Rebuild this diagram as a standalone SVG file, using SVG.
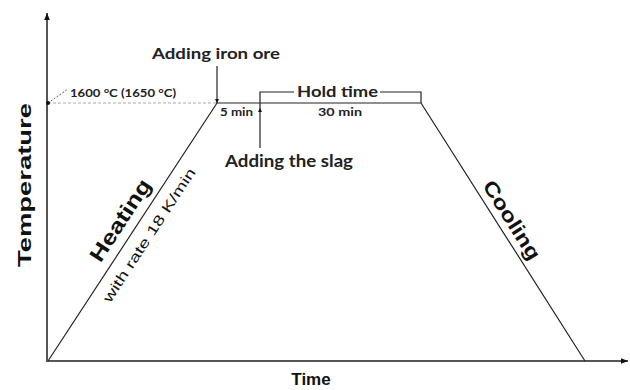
<svg xmlns="http://www.w3.org/2000/svg" width="630" height="390" viewBox="0 0 630 390">
<style>
.ax{stroke:#555;stroke-width:2;fill:none}
.ln{stroke:#222;stroke-width:1.2;fill:none}
.lb{font-family:Lato,"Open Sans",sans-serif;font-weight:bold;fill:#222}
.ar{font-family:"Liberation Sans",Arial,sans-serif;font-weight:bold;fill:#111}
.arn{font-family:"Liberation Sans",Arial,sans-serif;fill:#111}
</style>
<defs>
<marker id="ah" viewBox="0 0 10 10" refX="10" refY="5" markerWidth="20" markerHeight="7" markerUnits="userSpaceOnUse" orient="auto">
<path d="M0,1 L10,5 L0,9 Z" fill="#111"/>
</marker>
<marker id="sa" viewBox="0 0 10 10" refX="10" refY="5" markerWidth="7" markerHeight="4" markerUnits="userSpaceOnUse" orient="auto">
<path d="M0,0 L10,5 L0,10 Z" fill="#111"/>
</marker>
</defs>
<g id="axes">
<line class="ax" x1="47" y1="361" x2="47" y2="13" marker-end="url(#ah)"/>
<line class="ax" x1="46" y1="361" x2="628" y2="361" marker-end="url(#ah)"/>
<text class="ar" font-size="18" transform="translate(31,185) rotate(-90)" text-anchor="middle" textLength="164" lengthAdjust="spacingAndGlyphs">Temperature</text>
<text class="ar" font-size="17" x="311" y="385" text-anchor="middle">Time</text>
</g>
<g id="connectors">
<line x1="48" y1="103" x2="217" y2="103" stroke="#aaa" stroke-width="1" stroke-dasharray="3,2"/>
<line x1="48" y1="103" x2="68" y2="89" stroke="#666" stroke-width="1" stroke-dasharray="2,1.5"/>
<circle cx="48" cy="103" r="2" fill="#111"/>
<polyline class="ln" points="48,361 217,103 421,103 585,361"/>
<line class="ln" x1="217" y1="66" x2="217" y2="103" marker-end="url(#sa)"/>
<line class="ln" x1="260" y1="148" x2="260" y2="108" marker-end="url(#sa)"/>
<polyline class="ln" points="260,108 260,92 294,92"/>
<polyline class="ln" points="380,92 421,92 421,103"/>
</g>
<g id="temp-label">
<text class="lb" font-size="12" x="70" y="97" textLength="106" lengthAdjust="spacingAndGlyphs">1600 °C (1650 °C)</text>
</g>
<g id="iron-ore">
<text class="lb" font-size="16" x="152" y="59" textLength="128" lengthAdjust="spacingAndGlyphs">Adding iron ore</text>
</g>
<g id="hold-time">
<text class="lb" font-size="16" x="297" y="97" textLength="81" lengthAdjust="spacingAndGlyphs">Hold time</text>
</g>
<g id="five-min">
<text class="lb" font-size="12" x="220" y="116" textLength="33" lengthAdjust="spacingAndGlyphs">5 min</text>
</g>
<g id="thirty-min">
<text class="lb" font-size="12" x="318" y="116" textLength="44" lengthAdjust="spacingAndGlyphs">30 min</text>
</g>
<g id="slag">
<text class="lb" font-size="17" x="225" y="167" textLength="128" lengthAdjust="spacingAndGlyphs">Adding the slag</text>
</g>
<g id="heating">
<text class="ar" font-size="21" transform="translate(120,220) rotate(-56.8)" text-anchor="middle" dominant-baseline="central" textLength="94" lengthAdjust="spacingAndGlyphs">Heating</text>
<text class="arn" font-size="14" transform="translate(149,235) rotate(-56.8)" text-anchor="middle" dominant-baseline="central" textLength="157" lengthAdjust="spacingAndGlyphs">with rate 18 K/min</text>
</g>
<g id="cooling">
<text class="ar" font-size="20" transform="translate(512,220) rotate(57.6)" text-anchor="middle" dominant-baseline="central" textLength="90" lengthAdjust="spacingAndGlyphs">Cooling</text>
</g>
</svg>
